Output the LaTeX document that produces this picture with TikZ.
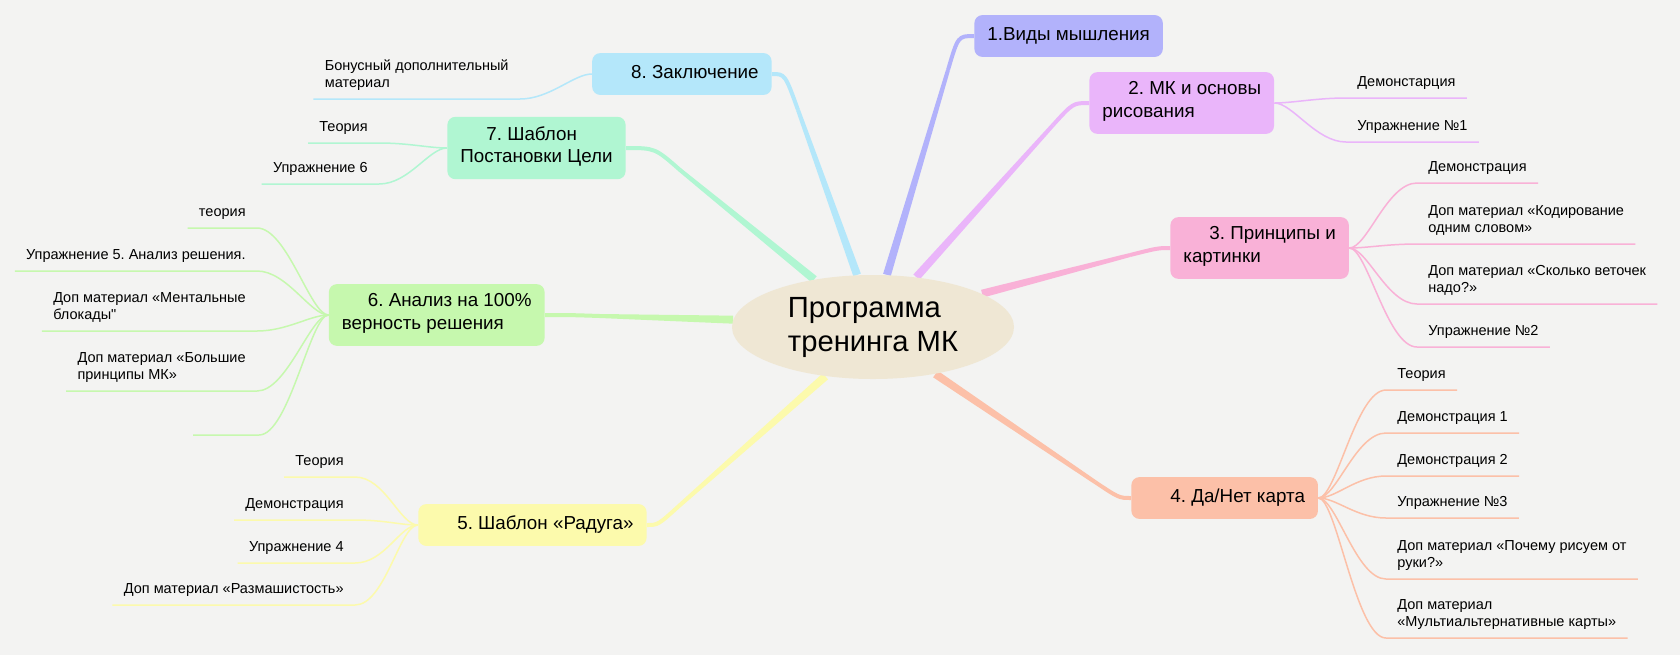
\documentclass[tikz,border=0pt]{standalone}
\usepackage{fontspec}
\setmainfont{Liberation Sans}
\newfontfamily\rawfont{Liberation Sans}
\usepackage{tikz}
\usetikzlibrary{calc, backgrounds, shapes.geometric}
\definecolor{paper}{RGB}{243, 243, 242}
\definecolor{core}{RGB}{239, 231, 212}
\definecolor{think}{RGB}{178, 178, 251}
\definecolor{basics}{RGB}{234, 181, 250}
\definecolor{rules}{RGB}{249, 177, 215}
\definecolor{yesno}{RGB}{252, 192, 168}
\definecolor{rainbow}{RGB}{252, 250, 172}
\definecolor{check}{RGB}{198, 248, 174}
\definecolor{goal}{RGB}{176, 246, 210}
\definecolor{final}{RGB}{180, 231, 250}
\newcommand{\topind}{\hspace*{13pt}}
% tapered branch: colour, start, bend, control, end
\newcommand{\trunk}[5]{%
  \fill[#1] ($(#2)!2pt!90:(#3)$) -- ($(#3)!1pt!-90:(#2)$)
    -- ($(#3)!1pt!90:(#2)$) -- ($(#2)!2pt!-90:(#3)$) -- cycle;
  \draw[#1, line width=2pt] (#3) .. controls (#4) .. (#5);}
% thin branch to an underlined subtopic: colour, topic, subtopic
\newcommand{\twigR}[3]{\draw[twig, #1] (#2.east) .. controls +(18, 0) and +(-30, 0)
  .. (#3.south west) -- (#3.south east);}
\newcommand{\twigL}[3]{\draw[twig, #1] (#2.west) .. controls +(-18, 0) and +(30, 0)
  .. (#3.south east) -- (#3.south west);}

\begin{document}
\frenchspacing
\begin{tikzpicture}[x=0.5pt, y=-0.5pt,
  topic/.style={fill=#1, rounded corners=4pt, align=left, inner xsep=6.5pt,
    inner ysep=4.8pt, font=\fontsize{9.4}{11.3}\selectfont,
    execute at begin node=\strut, execute at end node=\strut},
  leaf/.style={align=left, inner xsep=5.5pt, inner ysep=3pt,
    font=\fontsize{7.25}{8.5}\selectfont, execute at end node=\strut},
  twig/.style={line width=0.75pt}]
  \useasboundingbox (0, 0) rectangle (1680, 655);

  % Central topic
  \node[ellipse, fill=core, minimum width=141pt, minimum height=52pt,
        inner sep=0pt, align=left, font=\fontsize{14.6}{17}\selectfont]
    (core) at (873, 327) {Программа\\тренинга МК};

  % Main topics
  \node[topic=think, anchor=west] (t1) at (974, 36) {1.Виды мышления};
  \node[topic=basics, anchor=west] (t2) at (1089, 103)
    {\topind 2. МК и основы\\рисования};
  \node[topic=rules, anchor=west] (t3) at (1170, 248)
    {\topind 3. Принципы и\\картинки};
  \node[topic=yesno, anchor=west] (t4) at (1131, 498) {\topind 4. Да/Нет карта};
  \node[topic=rainbow, anchor=east] (t5) at (647, 525)
    {\topind 5. Шаблон «Радуга»};
  \node[topic=check, anchor=east] (t6) at (545, 315)
    {\topind 6. Анализ на 100\%\\верность решения};
  \node[topic=goal, anchor=east] (t7) at (626, 148)
    {\topind 7. Шаблон\\Постановки Цели};
  \node[topic=final, anchor=east] (t8) at (772, 74) {\topind 8. Заключение};

  % Subtopics, right side
  \node[leaf, anchor=south west] (t2a) at (1346, 98) {Демонстарция};
  \node[leaf, anchor=south west] (t2b) at (1346, 142) {Упражнение №1};

  \node[leaf, anchor=south west] (t3a) at (1417, 183) {Демонстрация};
  \node[leaf, anchor=south west] (t3b) at (1417, 244)
    {Доп материал «Кодирование\\одним словом»};
  \node[leaf, anchor=south west] (t3c) at (1417, 304)
    {Доп материал «Сколько веточек\\надо?»};
  \node[leaf, anchor=south west] (t3d) at (1417, 347) {Упражнение №2};

  \node[leaf, anchor=south west] (t4a) at (1386, 390) {Теория};
  \node[leaf, anchor=south west] (t4b) at (1386, 433) {Демонстрация 1};
  \node[leaf, anchor=south west] (t4c) at (1386, 476) {Демонстрация 2};
  \node[leaf, anchor=south west] (t4d) at (1386, 518) {Упражнение №3};
  \node[leaf, anchor=south west] (t4e) at (1386, 579)
    {Доп материал «Почему рисуем от\\руки?»};
  \node[leaf, anchor=south west] (t4f) at (1386, 638)
    {Доп материал\\«Мультиальтернативные карты»};

  % Subtopics, left side
  \node[leaf, anchor=south east] (t5a) at (355, 477) {Теория};
  \node[leaf, anchor=south east] (t5b) at (355, 520) {Демонстрация};
  \node[leaf, anchor=south east] (t5c) at (355, 563) {Упражнение 4};
  \node[leaf, anchor=south east] (t5d) at (355, 605)
    {Доп материал «Размашистость»};

  \node[leaf, anchor=south east] (t6a) at (257, 228) {теория};
  \node[leaf, anchor=south east] (t6b) at (257, 271)
    {Упражнение 5. Анализ решения.};
  \node[leaf, anchor=south east] (t6c) at (257, 331)
    {Доп материал «Ментальные\\блокады{\rawfont"}};
  \node[leaf, anchor=south east] (t6d) at (257, 391)
    {Доп материал «Большие\\принципы МК»};
  \node[leaf, anchor=south east, minimum width=32.5pt] (t6e) at (259, 435) {};

  \node[leaf, anchor=south east] (t7a) at (379, 143) {Теория};
  \node[leaf, anchor=south east] (t7b) at (379, 184) {Упражнение 6};

  \node[leaf, anchor=south east] (t8a) at (520, 99)
    {Бонусный дополнительный\\материал};

  % Thin branches
  \twigR{basics}{t2}{t2a} \twigR{basics}{t2}{t2b}
  \twigR{rules}{t3}{t3a} \twigR{rules}{t3}{t3b}
  \twigR{rules}{t3}{t3c} \twigR{rules}{t3}{t3d}
  \twigR{yesno}{t4}{t4a} \twigR{yesno}{t4}{t4b} \twigR{yesno}{t4}{t4c}
  \twigR{yesno}{t4}{t4d} \twigR{yesno}{t4}{t4e} \twigR{yesno}{t4}{t4f}
  \twigL{rainbow}{t5}{t5a} \twigL{rainbow}{t5}{t5b}
  \twigL{rainbow}{t5}{t5c} \twigL{rainbow}{t5}{t5d}
  \twigL{check}{t6}{t6a} \twigL{check}{t6}{t6b} \twigL{check}{t6}{t6c}
  \twigL{check}{t6}{t6d} \twigL{check}{t6}{t6e}
  \twigL{goal}{t7}{t7a} \twigL{goal}{t7}{t7b}
  \twigL{final}{t8}{t8a}

  % Thick branches, behind the topics
  \begin{scope}[on background layer]
    \fill[paper] (0, 0) rectangle (1680, 655);
    \trunk{think}{core.75}{948, 70}{958, 36}{t1.west}
    \trunk{basics}{core.49}{1053, 125}{1073, 103}{t2.west}
    \trunk{rules}{core.17}{1130, 255}{1158, 248}{t3.west}
    \trunk{yesno}{core.-37}{1095, 482}{1119, 498}{t4.west}
    \trunk{rainbow}{core.-134}{680, 505}{658, 525}{t5.east}
    \trunk{check}{core.177}{600, 316}{570, 315}{t6.east}
    \trunk{goal}{core.141}{680, 170}{655, 148}{t7.east}
    \trunk{final}{core.107}{798, 110}{785, 74}{t8.east}
  \end{scope}
\end{tikzpicture}
\end{document}
